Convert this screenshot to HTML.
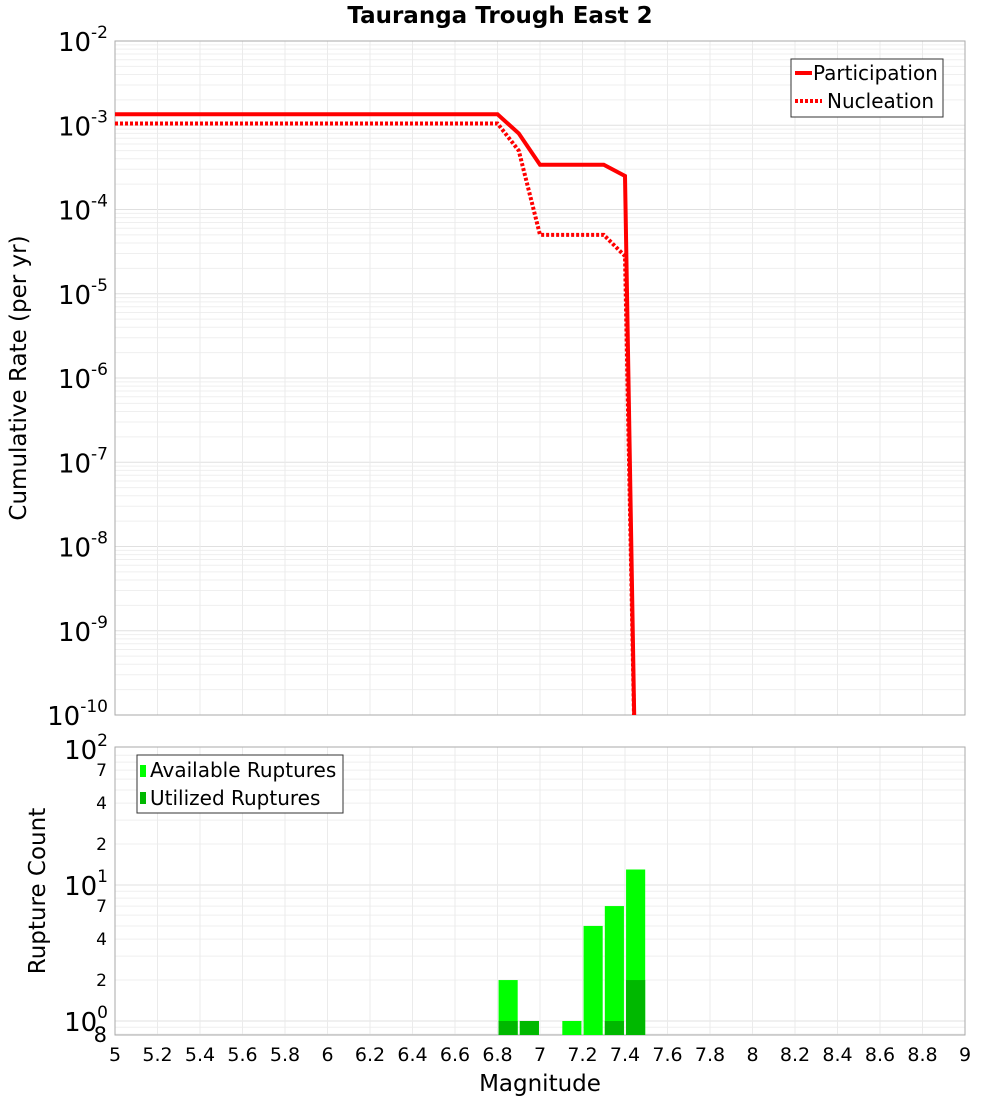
<!DOCTYPE html>
<html><head><meta charset="utf-8"><style>
body{margin:0;background:#fff;font-family:"DejaVu Sans","Liberation Sans",sans-serif}
</style></head><body>
<svg id="c" width="1000" height="1100" xmlns="http://www.w3.org/2000/svg" style="font-family:'DejaVu Sans','Liberation Sans',sans-serif"></svg>
<script>
const partX=[5,6.8,6.9,7.0,7.3,7.4,7.45];
const partY=[1.35e-3,1.35e-3,8e-4,3.4e-4,3.4e-4,2.5e-4,1e-11];
const nuclX=[5,6.8,6.9,7.0,7.3,7.4,7.45];
const nuclY=[1.05e-3,1.05e-3,5e-4,5e-5,5e-5,2.8e-5,1e-11];
const binX=[6.85,6.95,7.15,7.25,7.35,7.45];
const availCount=[2,1,1,5,7,13];
const usedCount=[1,1,0,0,1,2];
const xTicks=[5,5.2,5.4,5.6,5.8,6,6.2,6.4,6.6,6.8,7,7.2,7.4,7.6,7.8,8,8.2,8.4,8.6,8.8,9];
const topDecades=[-2,-3,-4,-5,-6,-7,-8,-9,-10];

const svg=document.getElementById('c');const NS='http://www.w3.org/2000/svg';
function el(t,a,p){const e=document.createElementNS(NS,t);for(const k in a)e.setAttribute(k,a[k]);(p||svg).appendChild(e);return e;}
const L=115,R=965;
const X=v=>L+(v-5)/4*(R-L);
const T0=41,T1=715;
const YT=v=>{const l=Math.log10(v);return T0+(-2-l)/8*(T1-T0);};
const B0=747,B1=1035,BD=136,B10=1021;
const YB=v=>B10-Math.log10(v)*BD;

let t=el('text',{x:500,y:23,'text-anchor':'middle','font-size':23,'font-weight':'bold'});t.textContent='Tauranga Trough East 2';


const gTop=el('g',{});
for(let d=-10;d<-2;d++)for(let m=1;m<10;m++){const y=YT(m*Math.pow(10,d));el('line',{x1:L,x2:R,y1:y,y2:y,stroke:m==1?'#e0e0e0':'#efefef','stroke-width':1},gTop);}
xTicks.forEach(v=>el('line',{x1:X(v),x2:X(v),y1:T0,y2:T1,stroke:'#ebebeb'},gTop));
el('rect',{x:L,y:T0,width:R-L,height:T1-T0,fill:'none',stroke:'#aaa'},gTop);
topDecades.forEach(d=>{const y=YT(Math.pow(10,d));const tx=el('text',{x:108,y:y+10,'text-anchor':'end','font-size':26});
tx.innerHTML='10<tspan dy="-13" font-size="17">'+d+'</tspan>';
});
t=el('text',{x:26,y:378,'text-anchor':'middle','font-size':23,transform:'rotate(-90 26 378)'});t.textContent='Cumulative Rate (per yr)';


el('clipPath',{id:'ct'});
const cp=el('rect',{x:L,y:T0,width:R-L,height:T1-T0},svg.querySelector('#ct'));
function line(xs,ys,dash,name){const p=el('polyline',{points:xs.map((x,i)=>X(x)+','+YT(ys[i])).join(' '),fill:'none',stroke:'#f00','stroke-width':4,'clip-path':'url(#ct)'});
if(dash)p.setAttribute('stroke-dasharray','3,2');}
line(partX,partY,false,'participation-line');line(nuclX,nuclY,true,'nucleation-line');

const lg=el('g',{});
el('rect',{x:791,y:59,width:152,height:58,fill:'#fff',stroke:'#333'},lg);
el('line',{x1:795,x2:812,y1:73,y2:73,stroke:'#f00','stroke-width':4},lg);
el('line',{x1:795,x2:822,y1:101,y2:101,stroke:'#f00','stroke-width':4,'stroke-dasharray':'3,2'},lg);
t=el('text',{x:813,y:80,'font-size':20},lg);t.textContent='Participation';
t=el('text',{x:827,y:108,'font-size':20},lg);t.textContent='Nucleation';

const gB=el('g',{});
for(let d=-1;d<2;d++)for(let m=1;m<10;m++){const y=YB(m*Math.pow(10,d));if(y<B0||y>B1)continue;el('line',{x1:L,x2:R,y1:y,y2:y,stroke:m==1?'#e0e0e0':'#efefef'},gB);}
xTicks.forEach(v=>el('line',{x1:X(v),x2:X(v),y1:B0,y2:B1,stroke:'#ebebeb'},gB));
el('rect',{x:L,y:B0,width:R-L,height:B1-B0,fill:'none',stroke:'#aaa'},gB);
[0,1,2].forEach(d=>{const y=YB(Math.pow(10,d));const tx=el('text',{x:108,y:y+10,'text-anchor':'end','font-size':26});
tx.innerHTML='10<tspan dy="-13" font-size="17">'+d+'</tspan>';});
[2,4,7,20,40,70,0.8].forEach(v=>{const tx=el('text',{x:107,y:YB(v)+(v<1?8:6),'text-anchor':'end','font-size':v<1?21:17});tx.textContent=v<1?'8':String(v<10?v:v/10);
});
t=el('text',{x:45,y:891,'text-anchor':'middle','font-size':23,transform:'rotate(-90 45 891)'});t.textContent='Rupture Count';


const bw=0.09;
binX.forEach((b,i)=>{const x0=X(b-bw/2),w=X(b+bw/2)-x0;
if(availCount[i]>0){const r=el('rect',{x:x0,y:YB(availCount[i]),width:w,height:B1-YB(availCount[i]),fill:'#00ff00'});}
if(usedCount[i]>0){const r=el('rect',{x:x0,y:YB(usedCount[i]),width:w,height:B1-YB(usedCount[i]),fill:'#00b800'});}});

const lb=el('g',{});
el('rect',{x:137,y:755,width:206,height:58,fill:'#fff',stroke:'#333'},lb);
el('rect',{x:140,y:765,width:6,height:12,fill:'#00ff00'},lb);
el('rect',{x:140,y:792,width:6,height:12,fill:'#00b800'},lb);
t=el('text',{x:150,y:777,'font-size':20},lb);t.textContent='Available Ruptures';
t=el('text',{x:150,y:805,'font-size':20},lb);t.textContent='Utilized Ruptures';

xTicks.forEach(v=>{const tx=el('text',{x:X(v),y:1061,'text-anchor':'middle','font-size':19});tx.textContent=String(v);
});
t=el('text',{x:540,y:1091,'text-anchor':'middle','font-size':23});t.textContent='Magnitude';

</script>
</body></html>
